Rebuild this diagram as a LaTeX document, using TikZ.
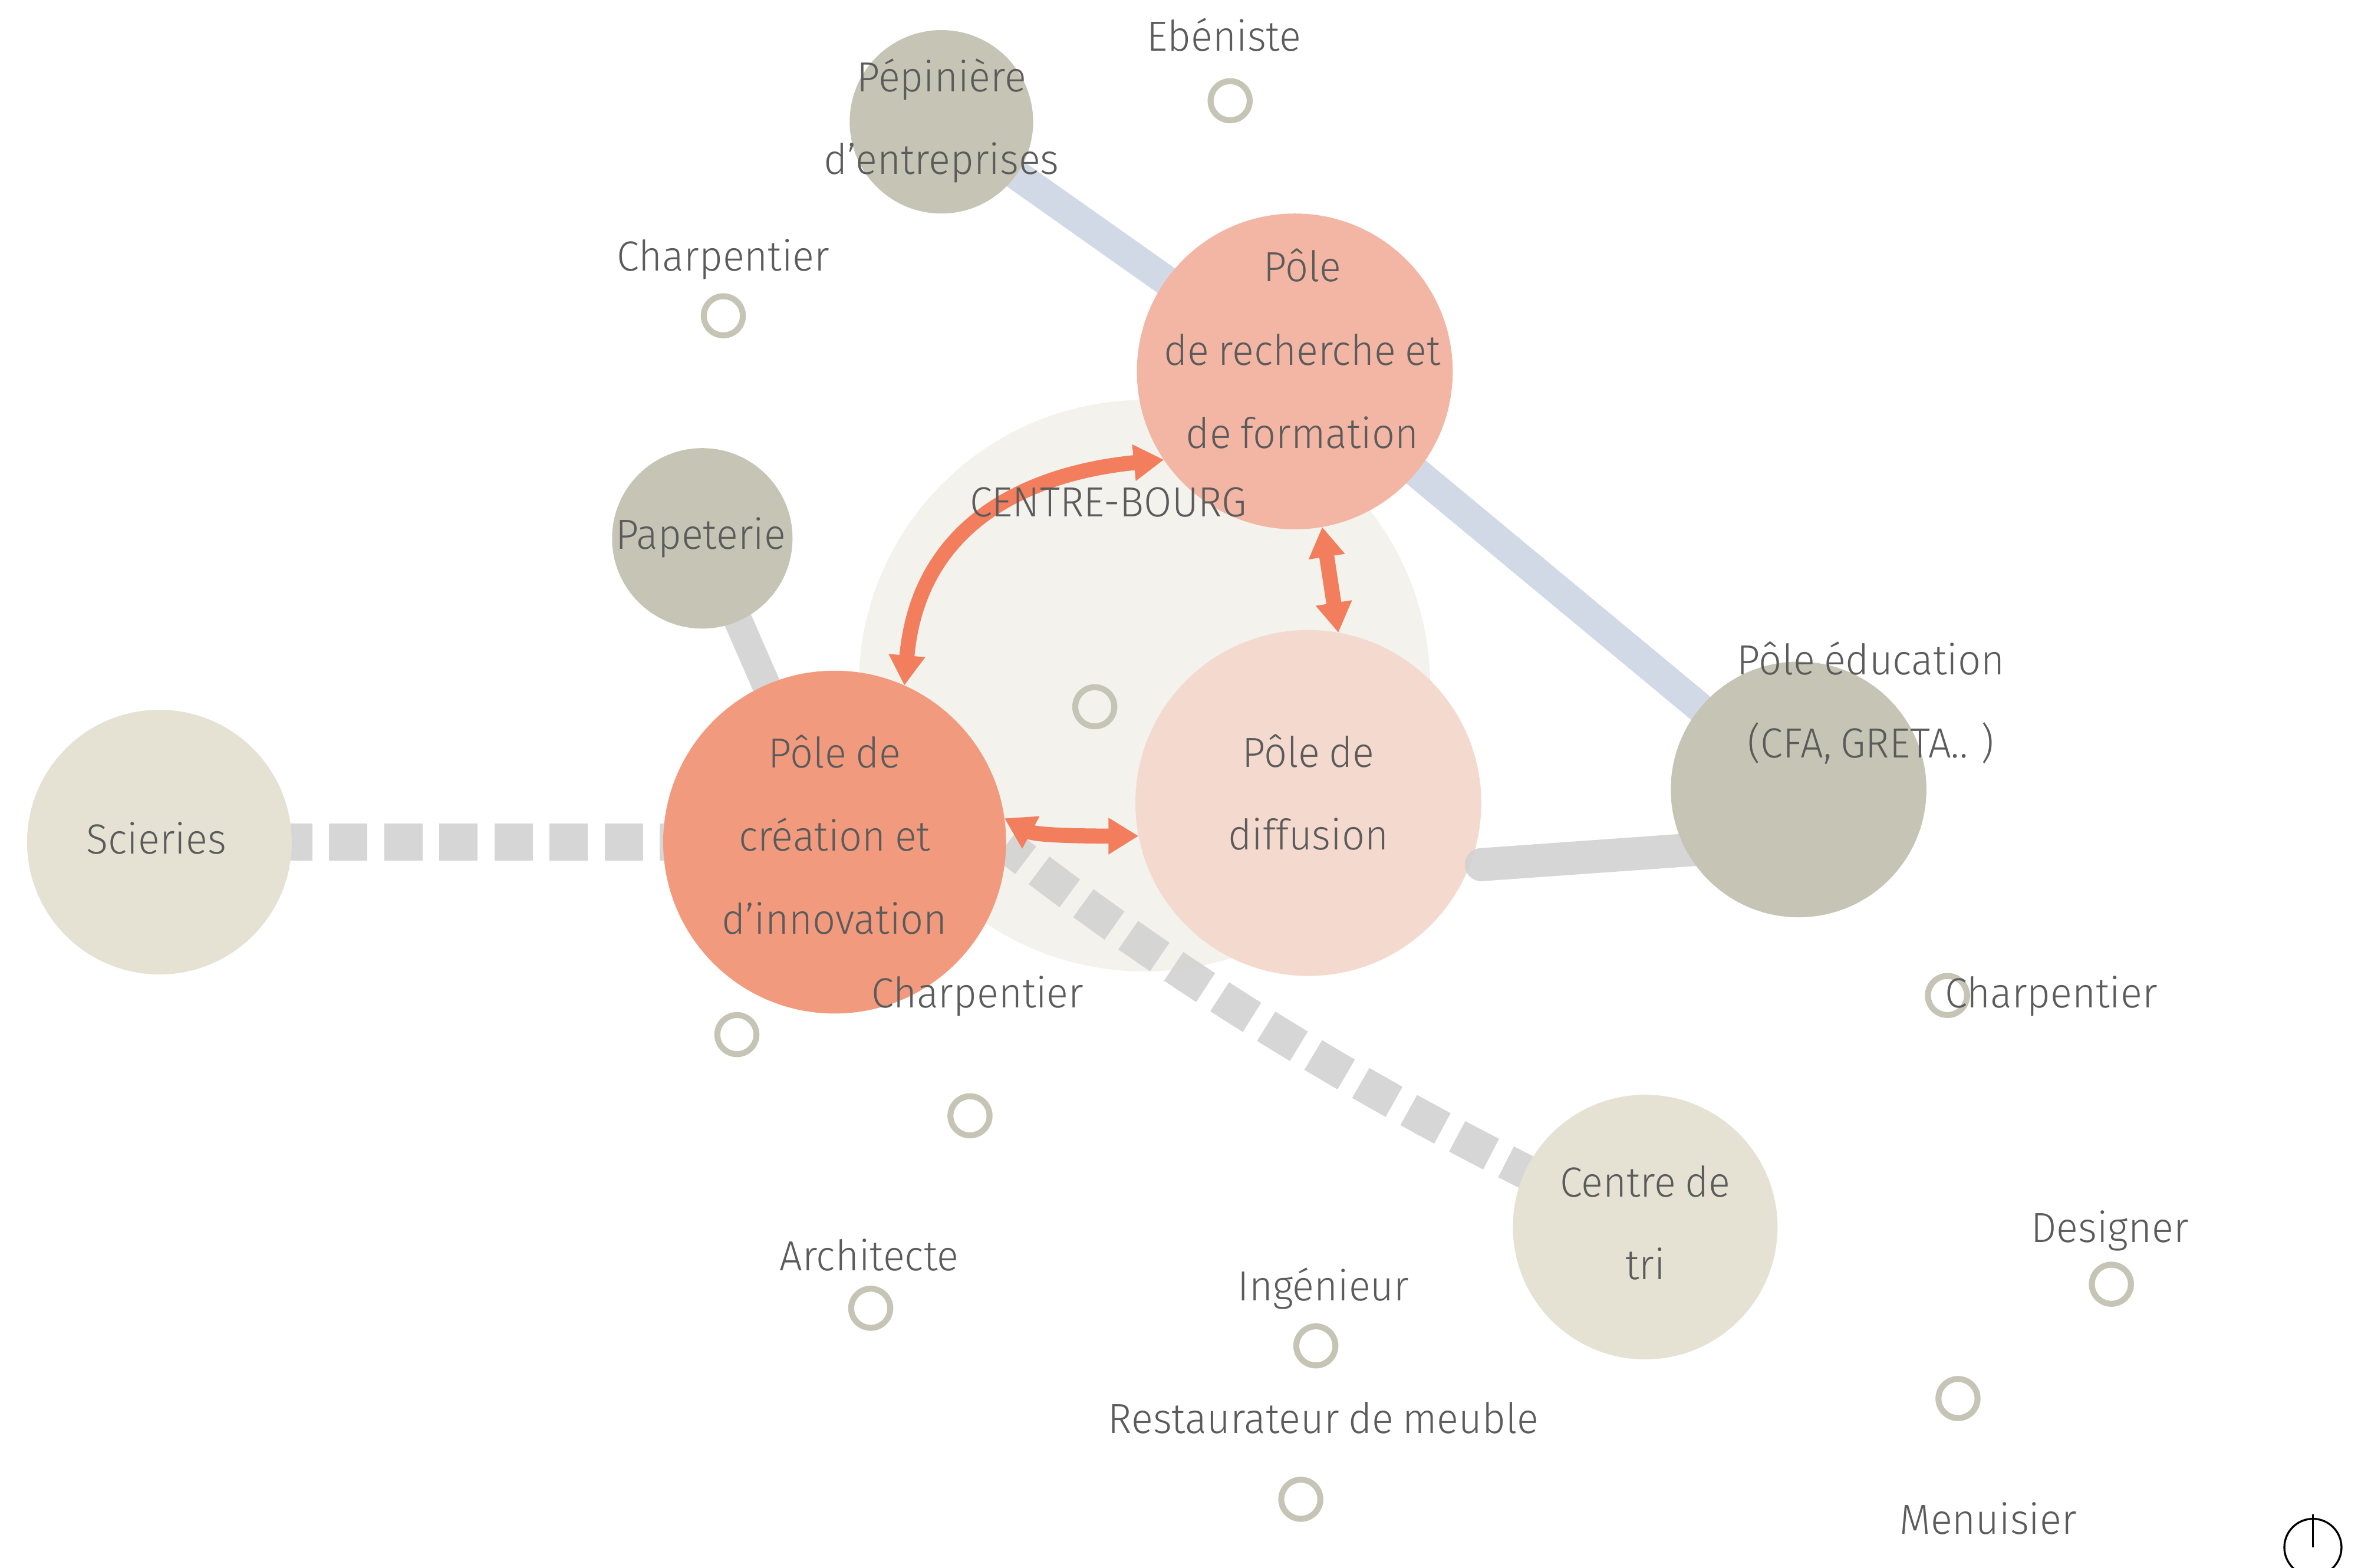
\documentclass[tikz,border=0pt]{standalone}
\usepackage{fontspec}
\setmainfont{Fira Sans}[UprightFont=* Light,FakeStretch=0.96,WordSpace=0.8]
\usetikzlibrary{arrows.meta}
\definecolor{cbourg}{HTML}{F3F2ED}
\definecolor{crech}{HTML}{F3B6A4}
\definecolor{cdiff}{HTML}{F4DACE}
\definecolor{ccrea}{HTML}{F29A7E}
\definecolor{cdark}{HTML}{C6C5B5}
\definecolor{clight}{HTML}{E5E2D4}
\definecolor{carrow}{HTML}{F27E5D}
\definecolor{cblue}{HTML}{D2D9E6}
\definecolor{cgray}{HTML}{D2D2D2}
\definecolor{ctext}{HTML}{5B5B5B}
\pgfdeclarelayer{bg}
\pgfdeclarelayer{conn}
\pgfsetlayers{bg,conn,main}
\begin{document}
\begin{tikzpicture}[x=1pt,y=-1pt,
  disc/.style={circle,inner sep=0pt,outer sep=0pt,draw=none},
  ring/.style={circle,draw=cdark,line width=4pt,minimum size=26pt,inner sep=0pt},
  lbl/.style={text=ctext,font=\fontsize{28}{34}\selectfont,inner sep=0pt,anchor=base},
  bluelink/.style={draw=cblue,line width=20pt},
  graylink/.style={draw=cgray,line width=19pt,opacity=0.9},
  dashlink/.style={draw=cgray,line width=25pt,opacity=0.9,dash pattern=on 25.5pt off 11.15pt},
  dbl/.style={draw=carrow,line width=10pt,{Triangle[width=23pt,length=20pt]}-{Triangle[width=23pt,length=20pt]}}
]
\useasboundingbox (0,0) rectangle (1568,1042.7);

% background circle
\begin{pgfonlayer}{bg}
\node[disc,fill=cbourg,minimum size=380pt] (bourg) at (761,456) {};
\end{pgfonlayer}

% main circles
\node[disc,fill=crech,minimum size=210pt] (rech) at (861,247) {};
\node[disc,fill=ccrea,minimum size=228pt] (crea) at (555,560) {};
\node[disc,fill=cdark,minimum size=122pt] (pep) at (626,81) {};
\node[disc,fill=cdark,minimum size=120pt] (pap) at (467,358) {};
\node[disc,fill=clight,minimum size=176pt] (sci) at (106,560) {};
\node[disc,fill=clight,minimum size=176pt] (tri) at (1094,816) {};
\node[disc,fill=cdiff,minimum size=230pt] (diff) at (870,534) {};
\coordinate (g1) at (985,575);
\coordinate (g2) at (1196,560);
\draw[graylink,line width=22pt,line cap=round] (g1) -- (g2);
\node[disc,fill=cdark,minimum size=170pt] (edu) at (1196,525) {};

% connectors under the circles
\begin{pgfonlayer}{conn}
\draw[bluelink] (pep.center) -- (rech.center);
\draw[bluelink] (rech.center) -- (edu.center);
\draw[graylink] (pap.center) -- (crea.center);
\draw[dashlink,dash phase=33.75pt] (sci.center) -- (crea.center);
\coordinate (t1) at (1022,783);
\draw[dashlink,line width=23pt,dash phase=9pt] (crea.-1.5) .. controls (778.3,646.9) and (895.7,719.9) .. (t1);
\end{pgfonlayer}

% small rings
\node[ring] (r1) at (818,67) {};
\node[ring] (r2) at (481,210) {};
\node[ring] (r3) at (728,470) {};
\node[ring] (r4) at (490,688) {};
\node[ring] (r5) at (645,742) {};
\node[ring] (r6) at (579,870) {};
\node[ring] (r7) at (875,895) {};
\node[ring] (r8) at (865,997) {};
\node[ring] (r9) at (1295,662) {};
\node[ring] (r10) at (1404,854) {};
\node[ring] (r11) at (1302,930) {};

% arrows
\draw[dbl] (crea.8.5) .. controls (690,556) and (733,556) .. (diff.191);
\draw[dbl] (crea.66.5) .. controls (610.5,350.5) and (680,315) .. (rech.214.3);
\draw[dbl] (rech.-80.6) -- (diff.80);

% labels
\node[lbl] (leben) at (814,34) {Ebéniste};
\node[lbl] (lpep1) at (626,61) {Pépinière};
\node[lbl] (lpep2) at (626,116) {d’entreprises};
\node[lbl] (lch1) at (481,180) {Charpentier};
\node[lbl] (lrech1) at (866,187) {Pôle};
\node[lbl] (lrech2) at (866,243) {de recherche et};
\node[lbl] (lrech3) at (866,298) {de formation};
\node[lbl] (lbourg) at (737,343.5) {CENTRE-BOURG};
\node[lbl] (lpap) at (466,365) {Papeterie};
\node[lbl] (ledu1) at (1244,448.5) {Pôle éducation};
\node[lbl] (ledu2) at (1244,504) {(CFA, GRETA.. )};
\node[lbl] (lcrea1) at (555,510.5) {Pôle de};
\node[lbl] (lcrea2) at (555,566) {création et};
\node[lbl] (lcrea3) at (555,621) {d’innovation};
\node[lbl] (ldiff1) at (870,510) {Pôle de};
\node[lbl] (ldiff2) at (870,565) {diffusion};
\node[lbl] (lsci) at (104,568) {Scieries};
\node[lbl] (lch2) at (650,670) {Charpentier};
\node[lbl] (lch3) at (1364,670) {Charpentier};
\node[lbl] (ltri1) at (1094,796) {Centre de};
\node[lbl] (ltri2) at (1094,851) {tri};
\node[lbl] (ldes) at (1403,826) {Designer};
\node[lbl] (larch) at (578,845) {Architecte};
\node[lbl] (ling) at (880,865) {Ingénieur};
\node[lbl] (lresto) at (880,953) {Restaurateur de meuble};
\node[lbl] (lmenu) at (1322,1020) {Menuisier};

% power icon
\node[circle,draw=black,line width=1.3pt,minimum size=38pt,inner sep=0pt] (power) at (1538,1029) {};
\draw[black,line width=1.3pt] (power.center) -- ++(0,-22);
\end{tikzpicture}
\end{document}
